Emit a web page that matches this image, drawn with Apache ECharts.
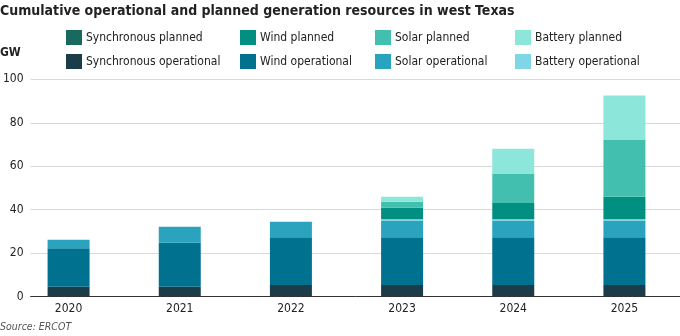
<!DOCTYPE html>
<html><head><meta charset="utf-8">
<script src="https://cdn.jsdelivr.net/npm/echarts@6/dist/echarts.min.js"></script>
<style>html,body{margin:0;padding:0;background:#fff}#c{width:680px;height:336px}</style>
</head><body><div id="c"></div>
<script>
const years = ['2020','2021','2022','2023','2024','2025'];
const syncOperational = [4.6, 4.6, 5.4, 5.4, 5.4, 5.4];
const windOperational = [17.7, 20.2, 21.9, 21.9, 21.9, 21.9];
const solarOperational = [3.9, 7.4, 7.2, 7.8, 7.8, 7.8];
const batteryOperational = [0, 0, 0, 0.5, 0.5, 0.5];
const syncPlanned = [0, 0, 0, 0, 0, 0];
const windPlanned = [0, 0, 0, 5.3, 7.5, 10.4];
const solarPlanned = [0, 0, 0, 2.8, 13.3, 26.1];
const batteryPlanned = [0, 0, 0, 2.3, 11.7, 20.4];
const yTicks = [0, 20, 40, 60, 80, 100];

const FONT = '"DejaVu Sans Condensed", "Liberation Sans", sans-serif';
const seriesDefs = [
  ['Synchronous operational', syncOperational, '#1b3d49'],
  ['Wind operational', windOperational, '#00728f'],
  ['Solar operational', solarOperational, '#2aa3bf'],
  ['Battery operational', batteryOperational, '#80d5e6'],
  ['Synchronous planned', syncPlanned, '#186a60'],
  ['Wind planned', windPlanned, '#008f80'],
  ['Solar planned', solarPlanned, '#43bfb0'],
  ['Battery planned', batteryPlanned, '#8de6da']
];

const legendCols = [
  [66, ['Synchronous planned', 'Synchronous operational']],
  [240, ['Wind planned', 'Wind operational']],
  [375, ['Solar planned', 'Solar operational']],
  [515, ['Battery planned', 'Battery operational']]
];

const chart = echarts.init(document.getElementById('c'), null, {renderer: 'canvas'});
chart.setOption({
  animation: false,
  textStyle: {fontFamily: FONT},
  title: [{
    text: 'Cumulative operational and planned generation resources in west Texas',
    left: 0, top: 4, padding: 0,
    textStyle: {fontFamily: FONT, fontSize: 14, fontWeight: 'bold', color: '#222'}
  }, {
    text: 'GW', left: 0, top: 47, padding: 0,
    textStyle: {fontFamily: FONT, fontSize: 12, fontWeight: 'bold', color: '#222'}
  }, {
    text: 'Source: ERCOT', left: 0, top: 322, padding: 0,
    textStyle: {fontFamily: FONT, fontSize: 10.5, fontStyle: 'italic', fontWeight: 'normal', color: '#555'}
  }],
  legend: legendCols.map(c => ({
    orient: 'vertical', left: c[0], top: 30, padding: 0,
    itemWidth: 16, itemHeight: 15, itemGap: 9,
    icon: 'rect', selectedMode: false,
    data: c[1],
    textStyle: {fontFamily: FONT, fontSize: 12, color: '#222', padding: [0, 0, 0, -1]}
  })),
  grid: [
    {left: 30, right: 0, top: 79.3, bottom: 39.3, containLabel: false},
    {left: 13, width: 684, top: 79.3, bottom: 39.3, containLabel: false}
  ],
  xAxis: [
    {type: 'category', gridIndex: 0, data: years, axisLabel: {show: false}, axisTick: {show: false},
     axisLine: {show: true, lineStyle: {color: '#333', width: 1}}, z: 10},
    {type: 'category', gridIndex: 1, data: years, axisTick: {show: false},
     axisLine: {show: false},
     axisLabel: {fontFamily: FONT, fontSize: 12, color: '#222', margin: 6}}
  ],
  yAxis: [
    {type: 'value', gridIndex: 0, min: 0, max: 100, interval: 20,
     axisLabel: {fontFamily: FONT, fontSize: 12, color: '#222', margin: 7,
       formatter: v => yTicks.includes(v) ? String(v) : ''},
     splitLine: {lineStyle: {color: '#d9d9d9', width: 1}},
     axisLine: {show: false}, axisTick: {show: false}},
    {type: 'value', gridIndex: 1, min: 0, max: 100, interval: 20, show: false,
     splitLine: {show: false}}
  ],
  series: seriesDefs.map(d => ({
    name: d[0], type: 'bar', stack: 'total', xAxisIndex: 1, yAxisIndex: 1,
    data: d[1], barWidth: 42,
    itemStyle: {color: d[2]}
  }))
});
</script></body></html>
